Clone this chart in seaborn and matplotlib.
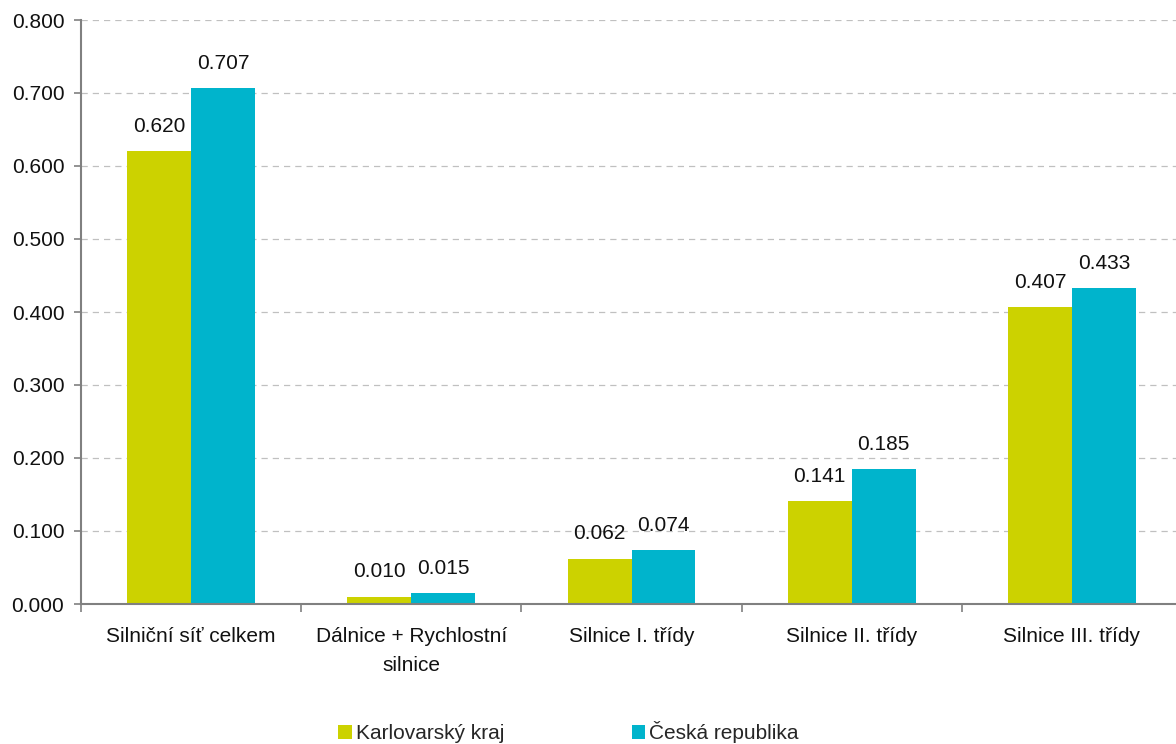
import matplotlib
matplotlib.use("Agg")
import matplotlib.pyplot as plt
from matplotlib.patches import Patch
from matplotlib.ticker import MultipleLocator, FixedLocator, FormatStrFormatter
import seaborn as sns
import pandas as pd

categories = ["Silniční síť celkem", "Dálnice + Rychlostní\nsilnice", "Silnice I. třídy",
              "Silnice II. třídy", "Silnice III. třídy"]
series_names = ["Karlovarský kraj", "Česká republika"]
karlovarsky = [0.620, 0.010, 0.062, 0.141, 0.407]
cr = [0.707, 0.015, 0.074, 0.185, 0.433]
colors = ["#CCD200", "#00B4CC"]

df = pd.DataFrame({
    "kategorie": categories * 2,
    "hodnota": karlovarsky + cr,
    "oblast": [series_names[0]] * len(categories) + [series_names[1]] * len(categories),
})

sns.set_style("white")
plt.rcParams["font.family"] = ["Liberation Sans", "DejaVu Sans"]
FS = 15

fig = plt.figure(figsize=(11.76, 7.44), dpi=100)
ax = fig.add_axes([81 / 1176, 1 - 604 / 744, 1101 / 1176, (604 - 20) / 744])

sns.barplot(data=df, x="kategorie", y="hodnota", hue="oblast", palette=colors,
            saturation=1, width=0.58, ax=ax, legend=False, errorbar=None, linewidth=0)

for cont in ax.containers:
    ax.bar_label(cont, fmt="%.3f", padding=11, fontsize=FS, color="#111111")

ax.set_ylim(0, 0.8)
ax.set_xlim(-0.5, len(categories) - 0.5)
ax.yaxis.set_major_locator(MultipleLocator(0.1))
ax.yaxis.set_major_formatter(FormatStrFormatter("%.3f"))
ax.grid(axis="y", color="#c0c0c0", linestyle=(0, (5, 4)), linewidth=0.9)
ax.set_axisbelow(True)

ax.set_xlabel("")
ax.set_ylabel("")
ax.tick_params(axis="x", which="major", bottom=False, labelsize=FS, pad=13)
ax.xaxis.set_minor_locator(FixedLocator([i + 0.5 for i in range(-1, len(categories))]))
ax.tick_params(axis="x", which="minor", bottom=True, length=6, color="#808080",
               width=1.2, direction="out")
ax.tick_params(axis="y", left=True, length=5, color="#808080", width=1.2, labelsize=FS,
               direction="out", pad=7)
for lbl in ax.get_xticklabels():
    lbl.set_linespacing(1.65)
    lbl.set_color("#111111")
for lbl in ax.get_yticklabels():
    lbl.set_color("#111111")

for side in ["top", "right"]:
    ax.spines[side].set_visible(False)
for side in ["left", "bottom"]:
    ax.spines[side].set_color("#808080")
    ax.spines[side].set_linewidth(1.5)

handles = [Patch(facecolor=c, edgecolor="none") for c in colors]
fig.legend(handles, series_names, loc="center", bbox_to_anchor=(0.4835, 0.016), ncol=2,
           frameon=False, fontsize=FS, handlelength=0.65, handleheight=0.65,
           handletextpad=0.2, columnspacing=6.1)

fig.savefig("out.png", dpi=100, facecolor="white")
